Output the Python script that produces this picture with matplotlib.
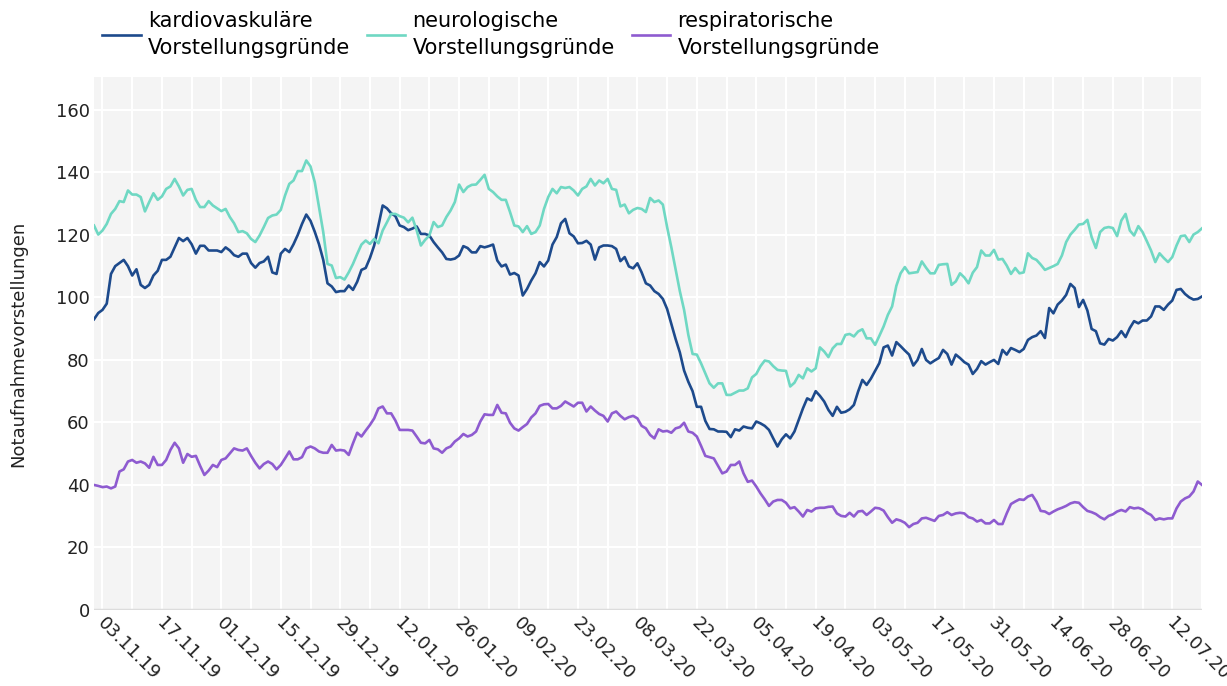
# Notaufnahmevorstellungen nach Vorstellungsgrund, Nov 2019 - Jul 2020
import matplotlib
matplotlib.use("Agg")
import matplotlib.pyplot as plt
import matplotlib.transforms as mtransforms
import pandas as pd

start_date = "2019-11-01"
first_tick = "2019-11-03"

# daily values
kardio = [
    93, 95, 96, 98, 107.5, 110, 111, 112, 110, 107,
    109, 104, 103, 104, 107, 108.5, 112, 112, 113, 116,
    119, 118, 119, 117, 114, 116.5, 116.5, 115, 115, 115,
    114.5, 116, 115, 113.5, 113, 114, 114, 111, 109.5, 111,
    111.5, 113, 108, 107.5, 114, 115.5, 114.5, 117, 120, 123.5,
    126.5, 124.5, 121, 117, 112, 104.5, 103.5, 101.7, 102, 102,
    103.8, 102.4, 105, 108.8, 109.4, 112.6, 116.6, 123, 129.4, 128.5,
    126.9, 126, 123, 122.5, 121.5, 122, 122.7, 120.3, 120.3, 119.8,
    117.7, 116, 114.4, 112.3, 112.1, 112.4, 113.4, 116.4, 115.8, 114.4,
    114.4, 116.4, 116, 116.4, 116.9, 111.8, 109.9, 110.5, 107.3, 107.8,
    107, 100.6, 102.7, 105.4, 107.7, 111.3, 109.9, 111.8, 116.9, 119.3,
    123.7, 125.1, 120.5, 119.5, 117.3, 117.4, 118.1, 116.9, 112.1, 116,
    116.6, 116.6, 116.4, 115.5, 111.6, 112.9, 109.9, 109.3, 110.9, 108,
    104.5, 103.8, 102, 101.1, 99.5, 96.3, 91.5, 86.7, 82.4, 76.6,
    73, 70, 65, 65, 60.5, 57.9, 57.8, 57.1, 57.1, 57,
    55.3, 57.8, 57.4, 58.7, 58.3, 58.1, 60.3, 59.7, 58.9, 57.6,
    54.9, 52.3, 54.6, 56.2, 54.9, 57.1, 60.8, 64.5, 67.7, 67,
    70, 68.5, 66.7, 64, 62.1, 65, 63.1, 63.4, 64.2, 65.6,
    69.9, 73.6, 72, 74, 76.5, 79, 84, 84.6, 81.4, 85.7,
    84.4, 83, 81.7, 78.2, 80, 83.5, 80, 78.9, 79.8, 80.6,
    83.2, 81.9, 78.5, 81.7, 80.6, 79.3, 78.5, 75.5, 77.1, 79.6,
    78.5, 79.3, 80, 78.7, 83.2, 81.7, 83.8, 83.2, 82.5, 83.5,
    86.4, 87.3, 87.8, 89.2, 87, 96.6, 94.9, 97.7, 99, 100.8,
    104.3, 103, 96.9, 99.2, 95.8, 89.9, 89.2, 85.3, 84.9, 86.7,
    86.2, 87.3, 89.2, 87.3, 90.2, 92.4, 91.7, 92.6, 92.6, 93.9,
    97.1, 97.1, 96, 97.7, 99, 102.4, 102.7, 101.1, 100, 99.3,
    99.5, 100.3,
]

neuro = [
    123, 120.1, 121.4, 123.5, 126.7, 128.3, 130.8, 130.5, 134.2, 132.9,
    132.9, 132.1, 127.5, 130.5, 133.3, 131.2, 132.3, 134.7, 135.5, 137.9,
    135.5, 132.6, 134.4, 134.7, 131.2, 128.9, 128.9, 130.8, 129.4, 128.5,
    127.6, 128.3, 125.7, 123.7, 120.9, 121.2, 120.5, 118.7, 117.7, 119.8,
    122.5, 125.4, 126.2, 126.5, 128, 132.6, 136.3, 137.4, 140.4, 140.4,
    143.8, 141.9, 136.9, 128.9, 120.9, 110.7, 110.2, 106.2, 106.5, 105.7,
    108, 110.7, 113.9, 116.9, 118.2, 117.1, 118.7, 117.3, 121.4, 124,
    126.7, 126.7, 126, 125.5, 124, 125.5, 121.5, 116.6, 118.4, 119.8,
    124.1, 122.5, 123, 125.7, 127.8, 130.5, 136.1, 133.7, 135.3, 136,
    136.1, 137.6, 139.2, 134.7, 133.7, 132.3, 131.2, 131.2, 127.3, 123,
    122.7, 120.9, 122.8, 120.3, 120.9, 123, 128.3, 132.1, 134.7, 133.3,
    135.3, 135, 135.3, 134.2, 132.6, 134.7, 135.5, 137.9, 135.8, 137.4,
    136.5, 137.9, 134.7, 134.4, 129.1, 129.7, 126.9, 128, 128.6, 128.3,
    127.3, 131.8, 130.5, 131, 129.7, 122.5, 116, 109, 102, 96,
    88, 81.9, 81.7, 78.9, 75.7, 72.5, 71.1, 72.5, 72.5, 68.8,
    68.8, 69.5, 70.2, 70.2, 70.9, 74.4, 75.5, 78, 79.8, 79.5,
    78, 76.8, 76.6, 76.5, 71.5, 72.7, 75.2, 74.1, 77.3, 76.3,
    77.3, 84, 82.7, 80.9, 83.7, 85.1, 85.1, 88, 88.3, 87.5,
    89.1, 89.8, 86.9, 86.9, 84.8, 87.7, 90.7, 94.4, 97.1, 103.7,
    107.7, 109.7, 107.7, 107.9, 108.1, 111.5, 109.5, 107.7, 107.7, 110.4,
    110.6, 110.7, 104, 105.1, 107.7, 106.4, 104.5, 107.9, 109.7, 115,
    113.4, 113.4, 115.2, 112.1, 112.3, 110.2, 107.5, 109.4, 107.7, 108,
    114.1, 112.6, 112, 110.5, 108.8, 109.4, 110, 110.7, 113.4, 117.7,
    120.1, 121.6, 123.3, 123.5, 124.8, 119.3, 115.8, 120.9, 122.2, 122.5,
    122.2, 119.6, 124.6, 126.7, 121.4, 119.8, 122.8, 120.9, 118, 115,
    111.3, 114.1, 112.6, 111.3, 112.9, 116.6, 119.6, 119.8, 117.7, 120.1,
    120.9, 122.1,
]

resp = [
    40, 39.7, 39.3, 39.5, 38.9, 39.5, 44.3, 45, 47.5, 48,
    47.1, 47.5, 46.9, 45.5, 49, 46.4, 46.4, 48, 51.2, 53.5,
    51.7, 47.1, 49.9, 49, 49.3, 46.1, 43.2, 44.6, 46.4, 45.7,
    48, 48.5, 50.1, 51.7, 51.2, 51, 51.7, 49.3, 47.1, 45.3,
    46.7, 47.5, 46.7, 45, 46.4, 48.5, 50.7, 48.2, 48.2, 48.9,
    51.7, 52.3, 51.7, 50.7, 50.3, 50.3, 52.8, 51, 51.2, 51,
    49.6, 53.3, 56.7, 55.5, 57.4, 59.2, 61.3, 64.5, 65.1, 62.9,
    62.9, 60.6, 57.6, 57.6, 57.6, 57.4, 55.5, 53.5, 53.3, 54.4,
    51.7, 51.4, 50.3, 51.7, 52.3, 53.9, 54.9, 56.3, 55.5, 56,
    57.1, 60.3, 62.6, 62.4, 62.4, 65.6, 63.1, 62.9, 59.9, 58.1,
    57.4, 58.5, 59.5, 61.6, 62.9, 65.3, 65.8, 65.9, 64.5, 64.5,
    65.3, 66.7, 65.9, 65.1, 66.3, 66.3, 63.5, 65.1, 63.8, 62.7,
    62.1, 60.3, 62.9, 63.5, 62.1, 61, 61.7, 62.1, 61.3, 58.9,
    58.1, 56, 54.9, 57.8, 57.1, 57.3, 56.7, 58.1, 58.5, 59.9,
    57.1, 56.7, 55.5, 52.5, 49.3, 48.9, 48.5, 46.1, 43.7, 44.3,
    46.4, 46.4, 47.5, 43.7, 41, 41.4, 39.5, 37.3, 35.4, 33.3,
    34.7, 35.2, 35.2, 34.3, 32.5, 32.9, 31.5, 29.9, 32, 31.5,
    32.5, 32.7, 32.7, 33, 33.1, 30.9, 30.1, 29.9, 31.1, 29.9,
    31.5, 31.7, 30.4, 31.5, 32.7, 32.5, 31.8, 29.7, 27.9, 29,
    28.6, 27.9, 26.5, 27.5, 27.9, 29.3, 29.5, 29, 28.5, 30.1,
    30.4, 31.3, 30.4, 30.9, 31.1, 30.9, 29.7, 29.3, 28.3, 28.8,
    27.7, 27.7, 28.8, 27.5, 27.5, 30.9, 33.9, 34.7, 35.4, 35.2,
    36.3, 36.8, 34.7, 31.7, 31.5, 30.7, 31.5, 32.2, 32.7, 33.3,
    34.1, 34.5, 34.3, 32.9, 31.7, 31.3, 30.7, 29.7, 29, 30.1,
    30.6, 31.5, 32, 31.5, 32.9, 32.5, 32.7, 32.2, 31.1, 30.4,
    28.8, 29.3, 29, 29.3, 29.3, 32.5, 34.7, 35.7, 36.3, 37.9,
    41.1, 40,
]

series_labels = [
    "kardiovaskuläre\nVorstellungsgründe",
    "neurologische\nVorstellungsgründe",
    "respiratorische\nVorstellungsgründe",
]
colors = ["#1d4a8c", "#6fd8c3", "#8e5bd0"]
y_ticks = [0, 20, 40, 60, 80, 100, 120, 140, 160]

dates = pd.date_range(start_date, periods=len(kardio), freq="D")
tick_dates = pd.date_range(first_tick, dates[-1], freq="14D")
grid_dates = pd.date_range(first_tick, dates[-1], freq="7D")

plt.rcParams["font.family"] = ["DejaVu Sans"]

W, H = 1227, 686
fig = plt.figure(figsize=(W / 100, H / 100), dpi=100)
ax = fig.add_axes([94 / W, 1 - 610 / H, (1202 - 94) / W, (610 - 77) / H])
ax.set_facecolor("#f4f4f4")

# grid: weekly verticals, every 20 horizontally
for d in grid_dates:
    ax.axvline(d, color="white", lw=1.5, zorder=1)
for v in y_ticks[1:]:
    ax.axhline(v, color="white", lw=1.5, zorder=1)
ax.axhline(0, color="#dcdcdc", lw=2.5, zorder=1)

handles = []
for vals, lab, col in zip([kardio, neuro, resp], series_labels, colors):
    h, = ax.plot(dates, vals, color=col, lw=1.9, label=lab, zorder=3)
    handles.append(h)

ax.set_xlim(dates[0], dates[-1])
ax.set_ylim(0, 170.5)
ax.set_yticks(y_ticks)
ax.set_xticks(tick_dates)
ax.set_xticklabels([d.strftime("%d.%m.%y") for d in tick_dates],
                   rotation=-45, ha="left", va="top", rotation_mode="anchor")
ax.tick_params(axis="both", length=0, labelsize=13, colors="#222222")
ax.tick_params(axis="x", pad=4)
ax.tick_params(axis="y", pad=3)
shift = mtransforms.ScaledTranslation(4 / 100, 1 / 100, fig.dpi_scale_trans)
for lbl in ax.get_xticklabels():
    lbl.set_transform(lbl.get_transform() + shift)
for s in ax.spines.values():
    s.set_visible(False)

ax.set_ylabel("Notaufnahmevorstellungen", fontsize=13, color="#222222")
ax.yaxis.set_label_coords((27 - 94) / (1202 - 94), 0.5)

leg = fig.legend(handles, series_labels, loc="upper left", bbox_to_anchor=(102 / W, 1 - 11 / H),
                 ncol=3, frameon=False, fontsize=15, handlelength=1.85, handletextpad=0.35,
                 columnspacing=0.8, borderpad=0, borderaxespad=0)
for t in leg.get_texts():
    t.set_linespacing(1.45)

fig.savefig("out.png", dpi=100)
